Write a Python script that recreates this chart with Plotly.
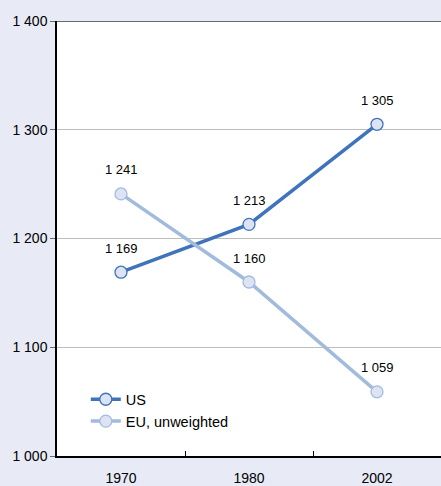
import plotly.graph_objects as go

years = ["1970", "1980", "2002"]
us = [1169, 1213, 1305]
eu = [1241, 1160, 1059]
y_ticks = [1000, 1100, 1200, 1300, 1400]
y_tick_labels = ["1 000", "1 100", "1 200", "1 300", "1 400"]

def fmt(v):
    return f"{v:,}".replace(",", " ")

us_color = "#3F74BA"
eu_color = "#A2BBDD"
marker_fill = "#DDE3F3"
bg = "#E8EAF5"

fig = go.Figure()
fig.add_trace(go.Scatter(
    x=years, y=us, name="US", mode="lines+markers",
    line=dict(color=us_color, width=3.5),
    marker=dict(size=12, color=marker_fill, line=dict(color=us_color, width=1.3)),
))
fig.add_trace(go.Scatter(
    x=years, y=eu, name="EU, unweighted", mode="lines+markers",
    line=dict(color=eu_color, width=3.5),
    marker=dict(size=12, color=marker_fill, line=dict(color=eu_color, width=1.3)),
))

for series in (us, eu):
    for i, v in enumerate(series):
        fig.add_annotation(x=i, y=v, xref="x", yref="y", text=fmt(v), showarrow=False,
                           yshift=24, font=dict(size=13, color="#000000",
                                                family="Liberation Sans, Arial, sans-serif"))

fig.add_hline(y=1400, line=dict(color="#6B6B6B", width=2))

fig.update_layout(
    width=441, height=486, autosize=False,
    margin=dict(l=57, r=0, t=21, b=30),
    paper_bgcolor=bg, plot_bgcolor="#FFFFFF",
    font=dict(family="Liberation Sans, Arial, sans-serif", size=14, color="#000000"),
    showlegend=True,
    legend=dict(x=0.075, y=0.105, xanchor="left", yanchor="middle",
                bgcolor="rgba(0,0,0,0)", font=dict(size=14.5),
                itemwidth=30, tracegroupgap=0),
    xaxis=dict(type="category", tickson="boundaries", ticks="inside", ticklen=5,
               tickcolor="#000000", showline=True, linecolor="#000000", linewidth=1.5,
               showgrid=False, zeroline=False, range=[-0.5, 2.5],
               tickfont=dict(size=14), ticklabelstandoff=8),
    yaxis=dict(range=[1000, 1400], tickvals=y_ticks, ticktext=y_tick_labels,
               ticks="outside", ticklen=5, tickcolor="#6B6B6B",
               showline=True, linecolor="#000000", linewidth=1.5,
               showgrid=True, gridcolor="#BDBDBD", gridwidth=1.3, zeroline=False,
               tickfont=dict(size=14)),
)

fig.write_html("out.html", config={"displayModeBar": False},
               post_script="document.body.style.margin='0';document.body.style.padding='0';")
